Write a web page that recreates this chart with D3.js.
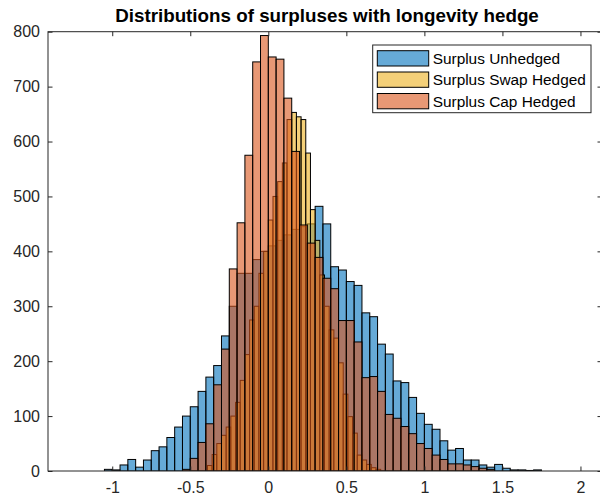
<!DOCTYPE html>
<html>
<head>
<meta charset="utf-8">
<script src="https://cdn.jsdelivr.net/npm/d3@7"></script>
<style>
  html, body { margin: 0; padding: 0; background: #fff; }
  svg { display: block; }
  text { font-family: "Liberation Sans", Arial, sans-serif; }
</style>
</head>
<body>
<svg id="chart" width="600" height="502"></svg>
<script>
// Histogram counts per bin; each series has its own bin start and width.
const seriesNames = ["Surplus Unhedged", "Surplus Swap Hedged", "Surplus Cap Hedged"];
const seriesColors = ["rgb(0,114,189)", "rgb(237,177,32)", "rgb(217,83,25)"];

const unhedgedStart = -1.05;
const unhedgedWidth = 0.05;
const unhedgedCounts = [3, 2, 11, 21, 7, 20, 37, 44, 61, 80, 100, 117, 145, 171, 192, 246,
  300, 360, 360, 385, 400, 410, 420, 430, 440, 445, 450, 482, 450, 372, 366, 345, 338,
  288, 281, 231, 213, 164, 161, 134, 105, 85, 76, 55, 38, 41, 20, 20, 11, 7, 12, 5, 2, 2, 1, 2];

const swapStart = -0.39;
const swapWidth = 0.03;
const swapCounts = [10, 30, 50, 65, 80, 100, 125, 165, 212, 275, 300, 360, 400, 457, 500,
  527, 561, 640, 653, 645, 640, 579, 476, 420, 357, 300, 257, 242, 197, 140, 99, 69, 29,
  20, 12, 6, 3];

const capStart = -0.55;
const capWidth = 0.05;
const capCounts = [3, 23, 52, 86, 157, 222, 368, 452, 575, 745, 793, 754, 750, 679, 582,
  448, 415, 389, 351, 332, 274, 274, 235, 170, 172, 145, 103, 96, 81, 68, 50, 41, 29, 21,
  13, 13, 11, 8, 5, 3];

const xTicks = [-1, -0.5, 0, 0.5, 1, 1.5, 2];
const xTickLabels = ["-1", "-0.5", "0", "0.5", "1", "1.5", "2"];
const yTicks = [0, 100, 200, 300, 400, 500, 600, 700, 800];
const yTickLabels = ["0", "100", "200", "300", "400", "500", "600", "700", "800"];
const titleText = "Distributions of surpluses with longevity hedge";

const svg = d3.select("#chart");
const plot = { left: 48, top: 31.7, right: 602, bottom: 471 };

const x = d3.scaleLinear().domain([-1.4116, 2.138]).range([plot.left, plot.right]);
const y = d3.scaleLinear().domain([0, 800]).range([plot.bottom, plot.top]);

const axisColor = "#262626";

svg.append("defs").append("clipPath").attr("id", "plotClip")
  .append("rect")
  .attr("x", plot.left).attr("y", plot.top - 2)
  .attr("width", plot.right - plot.left).attr("height", plot.bottom - plot.top + 2);

function binsOf(start, width, counts) {
  return counts.map((c, i) => ({ x0: start + i * width, x1: start + (i + 1) * width, count: c }));
}

const series = [
  binsOf(unhedgedStart, unhedgedWidth, unhedgedCounts),
  binsOf(swapStart, swapWidth, swapCounts),
  binsOf(capStart, capWidth, capCounts)
];

const barsLayer = svg.append("g").attr("clip-path", "url(#plotClip)");
series.forEach((bins, si) => {
  barsLayer.append("g")
    .selectAll("rect")
    .data(bins)
    .join("rect")
    .attr("x", d => x(d.x0))
    .attr("y", d => y(d.count))
    .attr("width", d => x(d.x1) - x(d.x0))
    .attr("height", d => y(0) - y(d.count))
    .attr("fill", seriesColors[si])
    .attr("fill-opacity", 0.6)
    .attr("stroke", "#000")
    .attr("stroke-width", 1);
});

// Axes with inward ticks on all four sides
const tickLen = 4.5;
const fmtX = (d) => xTickLabels[xTicks.indexOf(d)];
const fmtY = (d) => yTickLabels[yTicks.indexOf(d)];

const gx = svg.append("g").attr("transform", `translate(0,${plot.bottom})`)
  .call(d3.axisBottom(x).tickValues(xTicks).tickFormat(fmtX)
    .tickSizeInner(-tickLen).tickSizeOuter(0).tickPadding(11));
const gxTop = svg.append("g").attr("transform", `translate(0,${plot.top})`)
  .call(d3.axisTop(x).tickValues(xTicks).tickFormat("")
    .tickSizeInner(-tickLen).tickSizeOuter(0));
const gy = svg.append("g").attr("transform", `translate(${plot.left},0)`)
  .call(d3.axisLeft(y).tickValues(yTicks).tickFormat(fmtY)
    .tickSizeInner(-tickLen).tickSizeOuter(0).tickPadding(8));
const gyRight = svg.append("g").attr("transform", `translate(${plot.right},0)`)
  .call(d3.axisRight(y).tickValues(yTicks).tickFormat("")
    .tickSizeInner(-tickLen).tickSizeOuter(0));

[gx, gxTop, gy, gyRight].forEach(g => {
  g.select(".domain").remove();
  g.selectAll(".tick line").attr("stroke", axisColor);
  g.selectAll(".tick text")
    .attr("fill", axisColor)
    .style("font-family", "'Liberation Sans', Arial, sans-serif")
    .style("font-size", "16px");
});

// Axes box
svg.append("rect")
  .attr("x", plot.left).attr("y", plot.top)
  .attr("width", plot.right - plot.left).attr("height", plot.bottom - plot.top)
  .attr("fill", "none").attr("stroke", axisColor).attr("stroke-width", 1);

// Title
svg.append("text")
  .attr("x", 327)
  .attr("y", 22)
  .attr("text-anchor", "middle")
  .style("font-size", "18.8px")
  .style("font-weight", "bold")
  .attr("fill", "#000")
  .text(titleText);

// Legend
const legend = svg.append("g");
legend.append("rect")
  .attr("x", 372.7).attr("y", 45)
  .attr("width", 218.3).attr("height", 67.7)
  .attr("fill", "#fff").attr("stroke", axisColor).attr("stroke-width", 1);

const rowY = [50.7, 72, 93.5];
seriesNames.forEach((name, i) => {
  legend.append("rect")
    .attr("x", 377.3).attr("y", rowY[i])
    .attr("width", 51.4).attr("height", 15.3)
    .attr("fill", seriesColors[i]).attr("fill-opacity", 0.6)
    .attr("stroke", "#000").attr("stroke-width", 1);
  legend.append("text")
    .attr("x", 432.7).attr("y", rowY[i] + 7.7)
    .attr("dy", "0.35em")
    .style("font-size", "15.4px")
    .attr("fill", "#000")
    .text(name);
});
</script>
</body>
</html>
